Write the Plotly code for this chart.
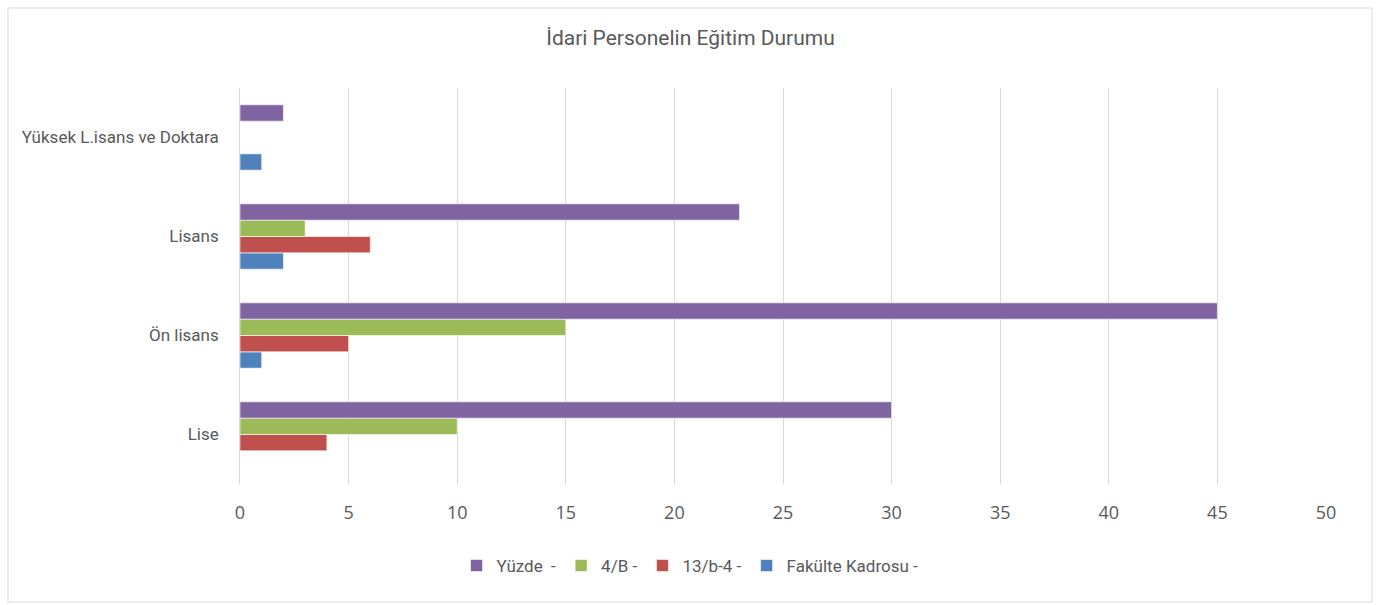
import plotly.graph_objects as go

categories = ["Lise", "Ön lisans", "Lisans", "Yüksek L.isans ve Doktara"]
fakulte = [0, 1, 2, 1]
b13 = [4, 5, 6, 0]
b4 = [10, 15, 3, 0]
yuzde = [30, 45, 23, 2]

series = [
    ("Fakülte Kadrosu -", fakulte, "#4F81BD"),
    ("13/b-4 -", b13, "#C0504D"),
    ("4/B -", b4, "#9BBB59"),
    ("Yüzde  -", yuzde, "#8064A2"),
]

cond = "Roboto, sans-serif"

fig = go.Figure()
for name, vals, col in series:
    fig.add_bar(y=categories, x=vals, name=name, orientation="h",
                marker=dict(color=col, line=dict(color="rgba(255,255,255,0.6)", width=1)))

W, H = 1381, 605
ml, mr, mt, mb = 240, 55, 88, 121
pw, ph = W - ml - mr, H - mt - mb

def px_x(p):
    return (p - ml) / pw

def px_y(p):
    return (H - mb - p) / ph

fig.update_layout(
    width=W, height=H,
    margin=dict(l=ml, r=mr, t=mt, b=mb),
    barmode="group", bargap=0.34, bargroupgap=0,
    plot_bgcolor="white", paper_bgcolor="white",
    title=dict(text="İdari Personelin Eğitim Durumu", x=0.5, xanchor="center",
               y=1 - 38 / H, yanchor="middle",
               font=dict(family=cond, size=21, color="#595959")),
    legend=dict(orientation="h", traceorder="reversed", x=px_x(690), xanchor="center",
                y=px_y(566), yanchor="middle",
                font=dict(family=cond, size=17, color="#595959")),
    xaxis=dict(range=[0, 50], dtick=5, showgrid=True, gridcolor="#d9d9d9", gridwidth=1,
               zeroline=False, automargin=False, ticklabelstandoff=16,
               tickfont=dict(family="Open Sans, sans-serif", size=18, color="#595959")),
    yaxis=dict(showgrid=False, showline=True, linecolor="#d9d9d9", linewidth=1,
               automargin=False,
               tickfont=dict(family=cond, size=17, color="#595959"), ticksuffix="    "),
    shapes=[dict(type="rect", xref="paper", yref="paper",
                 x0=px_x(8), x1=px_x(1372), y0=px_y(602), y1=px_y(8),
                 line=dict(color="#d9d9d9", width=1))],
)

fig.write_html("out.html", config={"displayModeBar": False},
               post_script="document.body.style.margin='0';")
